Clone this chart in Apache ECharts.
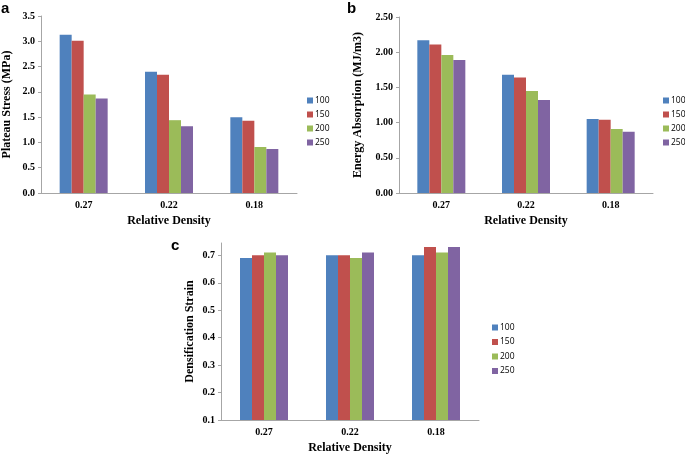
<!DOCTYPE html>
<html><head><meta charset="utf-8">
<script src="https://cdn.jsdelivr.net/npm/echarts@6/dist/echarts.min.js"></script>
<style>html,body{margin:0;padding:0;background:#fff}#c{width:685px;height:455px}</style>
</head><body><div id="c"></div>
<script>
const categories = ['0.27', '0.22', '0.18'];
const seriesNames = ['100', '150', '200', '250'];
const plateauStress = {
  '100': [3.13, 2.40, 1.50],
  '150': [3.01, 2.34, 1.43],
  '200': [1.95, 1.44, 0.91],
  '250': [1.87, 1.32, 0.87]
};
const energyAbsorption = {
  '100': [2.17, 1.68, 1.05],
  '150': [2.11, 1.64, 1.04],
  '200': [1.96, 1.45, 0.91],
  '250': [1.89, 1.32, 0.87]
};
const densificationStrain = {
  '100': [0.69, 0.70, 0.70],
  '150': [0.70, 0.70, 0.73],
  '200': [0.71, 0.69, 0.71],
  '250': [0.70, 0.71, 0.73]
};
const colors = ['#4F81BD', '#C0504D', '#9BBB59', '#8064A2'];
const serif = '"Liberation Serif", "Times New Roman", serif';
const axisColor = '#A6A6A6';

const chart = echarts.init(document.getElementById('c'), null, {renderer: 'canvas'});

function xAx(i) {
  return {
    type: 'category', gridIndex: i, data: categories,
    axisLine: {lineStyle: {color: axisColor}}, axisTick: {show: false},
    axisLabel: {color: '#000', fontFamily: serif, fontWeight: 'bold', fontSize: 10, margin: 7},
    name: 'Relative Density', nameLocation: 'middle', nameGap: 22,
    nameTextStyle: {color: '#000', fontFamily: serif, fontWeight: 'bold', fontSize: 12}
  };
}
function yAx(i, min, max, interval, name, fmt, nameGap) {
  return {
    type: 'value', gridIndex: i, min: min, max: max, interval: interval,
    axisLine: {show: true, lineStyle: {color: axisColor}},
    axisTick: {show: true, length: 3, lineStyle: {color: axisColor}},
    splitLine: {show: false},
    axisLabel: {color: '#000', fontFamily: serif, fontWeight: 'bold', fontSize: 10, margin: 6,
      showMaxLabel: max % interval < 1e-9 || Math.abs(max % interval - interval) < 1e-9,
      formatter: v => v.toFixed(fmt)},
    name: name, nameLocation: 'middle', nameGap: nameGap,
    nameTextStyle: {color: '#000', fontFamily: serif, fontWeight: 'bold', fontSize: 12}
  };
}
function legend(left, top, gap) {
  return {
    orient: 'vertical', left: left, top: top, data: seriesNames, icon: 'rect',
    itemWidth: 6, itemHeight: 6, itemGap: gap, selectedMode: false, padding: 0,
    textStyle: {fontFamily: '"Open Sans", sans-serif', fontSize: 8.5, color: '#000', padding: [0, 0, 0, -3]}
  };
}
const datasets = [plateauStress, energyAbsorption, densificationStrain];
const series = [];
datasets.forEach((d, gi) => {
  seriesNames.forEach((n, si) => {
    series.push({
      type: 'bar', name: n, xAxisIndex: gi, yAxisIndex: gi, data: d[n],
      barWidth: 12, barGap: '0%', itemStyle: {color: colors[si]}
    });
  });
});

chart.setOption({
  animation: false,
  color: colors,
  grid: [
    {left: 40, top: 16, width: 257, height: 177},
    {left: 399, top: 17, width: 254, height: 176},
    {left: 221, top: 243, width: 258, height: 178}
  ],
  xAxis: [xAx(0), xAx(1), xAx(2)],
  yAxis: [
    yAx(0, 0, 3.5, 0.5, 'Plateau Stress (MPa)', 1, 28),
    yAx(1, 0, 2.5, 0.5, 'Energy Absorption (MJ/m3)', 2, 35),
    yAx(2, 0.1, 0.745, 0.1, 'Densification Strain', 1, 25)
  ],
  legend: [legend(307, 96, 5), legend(663, 96, 5), legend(492, 323, 5.5)],
  graphic: [
    {type: 'text', left: 1, top: 1, style: {text: 'a', font: 'bold 15px "Liberation Sans", Arial, sans-serif', fill: '#000'}},
    {type: 'text', left: 347, top: 1, style: {text: 'b', font: 'bold 15px "Liberation Sans", Arial, sans-serif', fill: '#000'}},
    {type: 'text', left: 171, top: 238, style: {text: 'c', font: 'bold 15px "Liberation Sans", Arial, sans-serif', fill: '#000'}}
  ],
  series: series
});
</script></body></html>
